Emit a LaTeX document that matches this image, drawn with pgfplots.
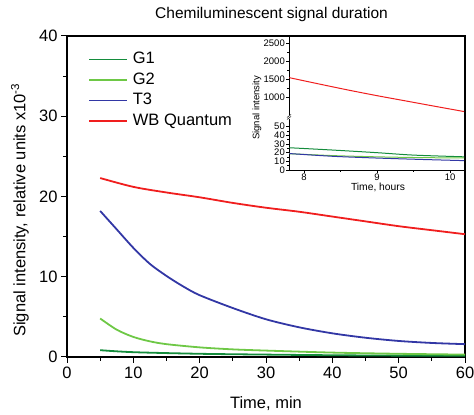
\documentclass[border=0pt]{standalone}
\usepackage{pgfplots}
\pgfplotsset{compat=1.18}
\usepackage{fontspec}
\setmainfont{Liberation Sans}

\definecolor{gone}{RGB}{20,140,60}
\definecolor{gtwo}{RGB}{110,200,70}
\definecolor{tthree}{RGB}{50,55,165}
\definecolor{wbq}{RGB}{240,30,30}

\begin{document}
\begin{tikzpicture}[x=1pt,y=1pt]
\useasboundingbox (0,0) rectangle (474,415);

% main plot
\begin{axis}[
  at={(67pt,58pt)}, anchor=south west,
  width=398pt, height=321pt, scale only axis,
  xmin=0, xmax=60, ymin=0, ymax=40,
  xtick={0,10,...,60}, ytick={0,10,...,40},
  minor x tick num=1, minor y tick num=1,
  tick pos=left, tick align=outside,
  major tick length=6pt, minor tick length=4pt,
  axis line style={line width=1.1pt},
  every tick/.style={black, line width=1pt},
  /pgf/number format/assume math mode=true,
  tick label style={font=\fontsize{16.5}{18}\selectfont},
  legend style={at={(0.045,0.958)}, anchor=north west, draw=none, fill=none,
    font=\fontsize{16.5}{18}\selectfont,
    nodes={inner sep=0pt, text height=12pt, text depth=3.5pt},
    row sep=5pt, column sep=5pt},
  legend cell align=left,
  legend image code/.code={\draw[#1, line width=1.8pt] (0pt,0pt) -- (38pt,0pt);},
  every axis plot/.append style={smooth, tension=0.5},
]
\addplot[gone, line width=1.8pt] coordinates {
 (5,0.85) (10,0.6) (20,0.4) (30,0.3) (40,0.22) (50,0.17) (60,0.15)};
\addplot[gtwo, line width=1.8pt] coordinates {
 (5,4.8) (7.5,3.4) (10,2.5) (12.5,1.95) (15,1.6) (20,1.2) (25,0.95)
 (30,0.8) (40,0.55) (50,0.4) (60,0.3)};
\addplot[tthree, line width=1.8pt] coordinates {
 (5,18.2) (7.5,15.9) (10,13.6) (12.5,11.6) (15,10.1) (17.5,8.8) (20,7.7)
 (25,6.1) (30,4.7) (35,3.7) (40,2.95) (45,2.4) (50,2.0) (55,1.75) (60,1.6)};
\addplot[wbq, line width=1.8pt] coordinates {
 (5,22.3) (10,21.2) (15,20.5) (20,19.9) (25,19.2) (30,18.6) (35,18.1)
 (40,17.5) (45,16.9) (50,16.3) (55,15.8) (60,15.3)};
\legend{G1, G2, T3, WB Quantum}
\end{axis}

% inset, upper part of the broken axis
\begin{axis}[
  at={(289pt,298pt)}, anchor=south west,
  width=175pt, height=81pt, scale only axis,
  xmin=7.795, xmax=10.19, ymin=448, ymax=2716,
  axis x line=none, axis y line*=left,
  ytick={1000,1500,2000,2500}, minor y tick num=1,
  tick align=outside, major tick length=3pt, minor tick length=2pt,
  axis line style={line width=0.6pt},
  every tick/.style={black, line width=0.5pt},
  /pgf/number format/assume math mode=true,
  /pgf/number format/1000 sep={},
  yticklabel style={font=\fontsize{9.5}{10}\selectfont, inner sep=1pt},
]
\addplot[wbq, line width=1pt, smooth] coordinates {
 (7.8,1549) (8.2,1375) (8.6,1205) (9.0,1045) (9.4,895) (9.8,745) (10.2,597)};
\end{axis}

% inset, lower part of the broken axis
\begin{axis}[
  at={(289pt,245pt)}, anchor=south west,
  width=175pt, height=53pt, scale only axis,
  xmin=7.795, xmax=10.19, ymin=0, ymax=61.2,
  axis x line*=bottom, axis y line*=left,
  xtick={8,9,10}, minor x tick num=1,
  ytick={0,10,...,50}, minor y tick num=1,
  tick align=outside, major tick length=3pt, minor tick length=2pt,
  axis line style={line width=0.6pt},
  every tick/.style={black, line width=0.5pt},
  /pgf/number format/assume math mode=true,
  tick label style={font=\fontsize{9.5}{10}\selectfont, inner sep=1pt},
  every axis plot/.append style={smooth},
]
\addplot[gone, line width=1pt] coordinates {
 (7.8,25.7) (8.4,23) (9,20) (9.5,17.2) (10.2,15.2)};
\addplot[gtwo, line width=1pt] coordinates {
 (7.8,18.8) (8.4,16.6) (9,15.2) (9.6,14.3) (10.2,13.9)};
\addplot[tthree, line width=1pt] coordinates {
 (7.8,19) (8.4,15.8) (9,13.8) (9.6,12.2) (10.2,10.8)};
\end{axis}

% break mark on the inset axis
\fill[white] (287,296) rectangle (291,300);
\draw[line width=0.5pt] (287,295.5) -- (291,298.5);
\draw[line width=0.5pt] (287,297.5) -- (291,300.5);

\node[rotate=90, font=\fontsize{9.5}{10}\selectfont] at (257,307) {Signal intensity};
\node[font=\fontsize{10.3}{11}\selectfont] at (378,228) {Time, hours};

% titles and labels
\node[font=\fontsize{15.5}{17}\selectfont] at (271.5,401) {Chemiluminescent signal duration};
\node[font=\fontsize{16.5}{18}\selectfont] at (266,11) {Time, min};
\node[rotate=90, font=\fontsize{16.5}{18}\selectfont] at (20,205)
  {Signal intensity, relative units x10\textsuperscript{-3}};
\end{tikzpicture}
\end{document}
